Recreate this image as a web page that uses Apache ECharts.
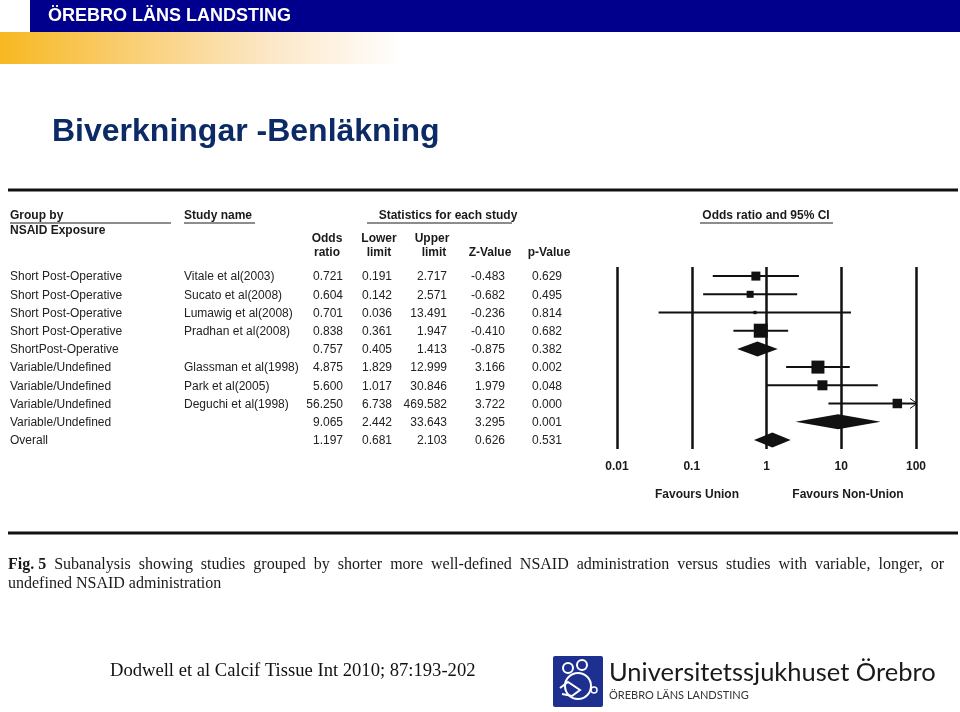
<!DOCTYPE html>
<html><head><meta charset="utf-8">
<script src="https://cdn.jsdelivr.net/npm/echarts/dist/echarts.min.js"></script>
<style>html,body{margin:0;padding:0;background:#fff}#c{width:960px;height:712px}</style>
</head><body><div id="c"></div>
<script>
const groups = ['Short Post-Operative','Short Post-Operative','Short Post-Operative','Short Post-Operative','ShortPost-Operative','Variable/Undefined','Variable/Undefined','Variable/Undefined','Variable/Undefined','Overall'];
const studies = ['Vitale et al(2003)','Sucato et al(2008)','Lumawig et al(2008)','Pradhan et al(2008)','','Glassman et al(1998)','Park et al(2005)','Deguchi et al(1998)','',''];
const oddsRatio = [0.721,0.604,0.701,0.838,0.757,4.875,5.600,56.250,9.065,1.197];
const lowerLimit = [0.191,0.142,0.036,0.361,0.405,1.829,1.017,6.738,2.442,0.681];
const upperLimit = [2.717,2.571,13.491,1.947,1.413,12.999,30.846,469.582,33.643,2.103];
const zValue = [-0.483,-0.682,-0.236,-0.410,-0.875,3.166,1.979,3.722,3.295,0.626];
const pValue = [0.629,0.495,0.814,0.682,0.382,0.002,0.048,0.000,0.001,0.531];
const rowKind = ['study','study','study','study','summary','study','study','study','summary','summary'];
const studyWeight = [8.1,4.9,1.1,19.6,0,16.9,10.0,9.0,0,0];
const tickValues = [0.01,0.1,1,10,100];
const tickLabels = ['0.01','0.1','1','10','100'];
const rowIds = groups.map((g,i)=>String(i));

const captionBold = 'Fig. 5';
const captionLine1 = 'Subanalysis showing studies grouped by shorter more well-defined NSAID administration versus studies with variable, longer, or';
const captionLine2 = 'undefined NSAID administration';

const SANS = 'Liberation Sans, Arial, sans-serif';
const SERIF = 'Liberation Serif, Times New Roman, serif';
const INK = '#1a1a1a';
const X_MIN = tickValues[0], X_MAX = tickValues[tickValues.length-1];

const chart = echarts.init(document.getElementById('c'), null, {renderer:'canvas'});

function txt(x,y,text,opt){
  opt = opt||{};
  return {type:'text', x:x, y:y, silent:true, style:Object.assign({text:text, fill:INK, fontFamily:SANS, fontSize:12, align:'left', verticalAlign:'middle'}, opt)};
}
function hline(x1,x2,y,w,color){
  return {type:'line', silent:true, shape:{x1:x1,y1:y,x2:x2,y2:y}, style:{stroke:color||INK, lineWidth:w||1}};
}

const CAP_SIZE = 16;
const mctx = document.createElement('canvas').getContext('2d');
function measure(t, bold){ mctx.font = (bold?'bold ':'') + CAP_SIZE + 'px ' + SERIF; return mctx.measureText(t).width; }
function justified(x0, x1, y){
  const words = [{t:captionBold, b:true}].concat(captionLine1.split(' ').map(w=>({t:w,b:false})));
  const widths = words.map(w=>measure(w.t, w.b));
  const total = widths.reduce((a,b)=>a+b,0);
  const gap = (x1 - x0 - total) / (words.length - 1);
  const out = [];
  let x = x0;
  words.forEach((w,k)=>{
    out.push(txt(x, y, w.t, {fontFamily:SERIF, fontSize:CAP_SIZE, fontWeight:w.b?'bold':'normal', fill:INK}));
    x += widths[k] + gap;
  });
  return out;
}

const colX = {group:10, study:184, or:343, lo:392, hi:447, z:505, p:562};

const graphics = [
  {type:'rect', shape:{x:30,y:0,width:930,height:32}, style:{fill:'#00008c'}, silent:true},
  {type:'rect', shape:{x:0,y:32,width:960,height:32}, silent:true,
   style:{fill:new echarts.graphic.LinearGradient(0,0,1,0,[{offset:0,color:'#f7b821'},{offset:0.12,color:'#f9cc6a'},{offset:0.28,color:'#fce7c6'},{offset:0.42,color:'#ffffff'},{offset:1,color:'#ffffff'}])}},
  txt(48,16,'ÖREBRO LÄNS LANDSTING',{fill:'#ffffff',fontSize:18,fontWeight:'bold'}),
  txt(52,132,'Biverkningar -Benläkning',{fill:'#0c2a66',fontSize:32,fontWeight:'bold'}),
  hline(8,958,190,3,'#111'),
  hline(8,958,533,3,'#111'),
  txt(10,216,'Group by',{fontWeight:'bold'}),
  hline(10,171,223,1),
  txt(10,231,'NSAID Exposure',{fontWeight:'bold'}),
  txt(184,216,'Study name',{fontWeight:'bold'}),
  hline(184,255,223,1),
  txt(448,216,'Statistics for each study',{fontWeight:'bold',align:'center'}),
  hline(367,512,223,1),
  txt(327,239,'Odds',{fontWeight:'bold',align:'center'}),
  txt(327,253,'ratio',{fontWeight:'bold',align:'center'}),
  txt(379,239,'Lower',{fontWeight:'bold',align:'center'}),
  txt(379,253,'limit',{fontWeight:'bold',align:'center'}),
  txt(432,239,'Upper',{fontWeight:'bold',align:'center'}),
  txt(434,253,'limit',{fontWeight:'bold',align:'center'}),
  txt(490,253,'Z-Value',{fontWeight:'bold',align:'center'}),
  txt(549,253,'p-Value',{fontWeight:'bold',align:'center'}),
  txt(766,216,'Odds ratio and 95% CI',{fontWeight:'bold',align:'center'}),
  hline(700,833,223,1),
  txt(697,495,'Favours Union',{fontWeight:'bold',align:'center'}),
  txt(848,495,'Favours Non-Union',{fontWeight:'bold',align:'center'})
].concat(justified(8, 944, 565)).concat([
  txt(8,584,captionLine2,{fontFamily:SERIF,fontSize:CAP_SIZE}),
  txt(110,671,'Dodwell et al Calcif Tissue Int 2010; 87:193-202',{fontFamily:SERIF,fontSize:18.6,fill:'#111'}),
  {type:'rect', shape:{x:553,y:656,width:50,height:51,r:2}, style:{fill:'#1d2f8f'}, silent:true},
  {type:'circle', shape:{cx:568,cy:668,r:5}, style:{fill:'none',stroke:'#fff',lineWidth:2}, silent:true},
  {type:'circle', shape:{cx:582,cy:665,r:5}, style:{fill:'none',stroke:'#fff',lineWidth:2}, silent:true},
  {type:'circle', shape:{cx:578,cy:686,r:13}, style:{fill:'none',stroke:'#fff',lineWidth:2}, silent:true},
  {type:'polyline', shape:{points:[[560,688],[568,682],[580,690],[572,696],[562,694]]}, style:{fill:'none',stroke:'#fff',lineWidth:2}, silent:true},
  {type:'circle', shape:{cx:594,cy:690,r:3}, style:{fill:'none',stroke:'#fff',lineWidth:1.5}, silent:true},
  txt(609,673,'Universitetssjukhuset Örebro',{fontFamily:'Lato, sans-serif',fontSize:25.5,fill:'#1a1a1a'}),
  txt(609,695,'ÖREBRO LÄNS LANDSTING',{fontFamily:'Lato, sans-serif',fontSize:11,fill:'#333'})
]);

const option = {
  animation:false,
  backgroundColor:'#ffffff',
  grid:{left:617, top:267, width:299, height:182, containLabel:false},
  xAxis:{
    type:'log', logBase:10, min:X_MIN, max:X_MAX,
    axisLine:{show:false}, axisTick:{show:false},
    splitLine:{show:true, lineStyle:{color:'#111', width:2.5}},
    axisLabel:{margin:12, fontFamily:SANS, fontSize:12, fontWeight:'bold', color:INK,
      formatter:function(v){ const k = tickValues.findIndex(t=>Math.abs(Math.log10(t)-Math.log10(v))<1e-6); return k>=0?tickLabels[k]:''; }}
  },
  yAxis:{type:'category', data:rowIds, inverse:true, show:false},
  graphic:{elements:graphics},
  series:[
    {
      type:'custom', name:'table', clip:false, silent:true,
      data: rowIds.map((r,i)=>[1,i]),
      encode:{x:0,y:1},
      renderItem:function(params, api){
        const i = params.dataIndex;
        const y = api.coord([1,i])[1] + 1;
        const f = v=>v.toFixed(3);
        const cells = [
          [colX.group, groups[i], 'left'],
          [colX.study, studies[i], 'left'],
          [colX.or, f(oddsRatio[i]), 'right'],
          [colX.lo, f(lowerLimit[i]), 'right'],
          [colX.hi, f(upperLimit[i]), 'right'],
          [colX.z, f(zValue[i]), 'right'],
          [colX.p, f(pValue[i]), 'right']
        ];
        return {type:'group', children: cells.map(c=>({type:'text', x:c[0], y:y,
          style:{text:c[1], fontFamily:SANS, fontSize:12, fill:'#222', align:c[2], verticalAlign:'middle'}}))};
      }
    },
    {
      type:'custom', name:'forest', clip:false, silent:true,
      data: oddsRatio.map((v,i)=>[v,i,lowerLimit[i],upperLimit[i],studyWeight[i]]),
      encode:{x:0,y:1},
      renderItem:function(params, api){
        const i = params.dataIndex;
        const p = api.coord([api.value(0), i]);
        const lo = api.coord([Math.max(api.value(2),X_MIN), i]);
        const hiV = api.value(3);
        const hi = api.coord([Math.min(hiV,X_MAX), i]);
        const children = [];
        if (rowKind[i] === 'summary') {
          const h = 7.5;
          children.push({type:'polygon', shape:{points:[[lo[0],p[1]],[p[0],p[1]-h],[hi[0],p[1]],[p[0],p[1]+h]]}, style:{fill:'#111'}});
        } else {
          children.push({type:'line', shape:{x1:lo[0],y1:p[1],x2:hi[0],y2:p[1]}, style:{stroke:'#111',lineWidth:2}});
          const s = Math.sqrt(api.value(4)*10);
          children.push({type:'rect', shape:{x:p[0]-s/2,y:p[1]-s/2,width:s,height:s}, style:{fill:'#111'}});
          if (hiV > X_MAX) {
            children.push({type:'polyline', shape:{points:[[hi[0]-6,p[1]-5],[hi[0]+1,p[1]],[hi[0]-6,p[1]+5]]}, style:{fill:'none',stroke:'#111',lineWidth:1}});
          }
        }
        return {type:'group', children:children};
      }
    }
  ]
};
chart.setOption(option);
</script>
</body></html>
